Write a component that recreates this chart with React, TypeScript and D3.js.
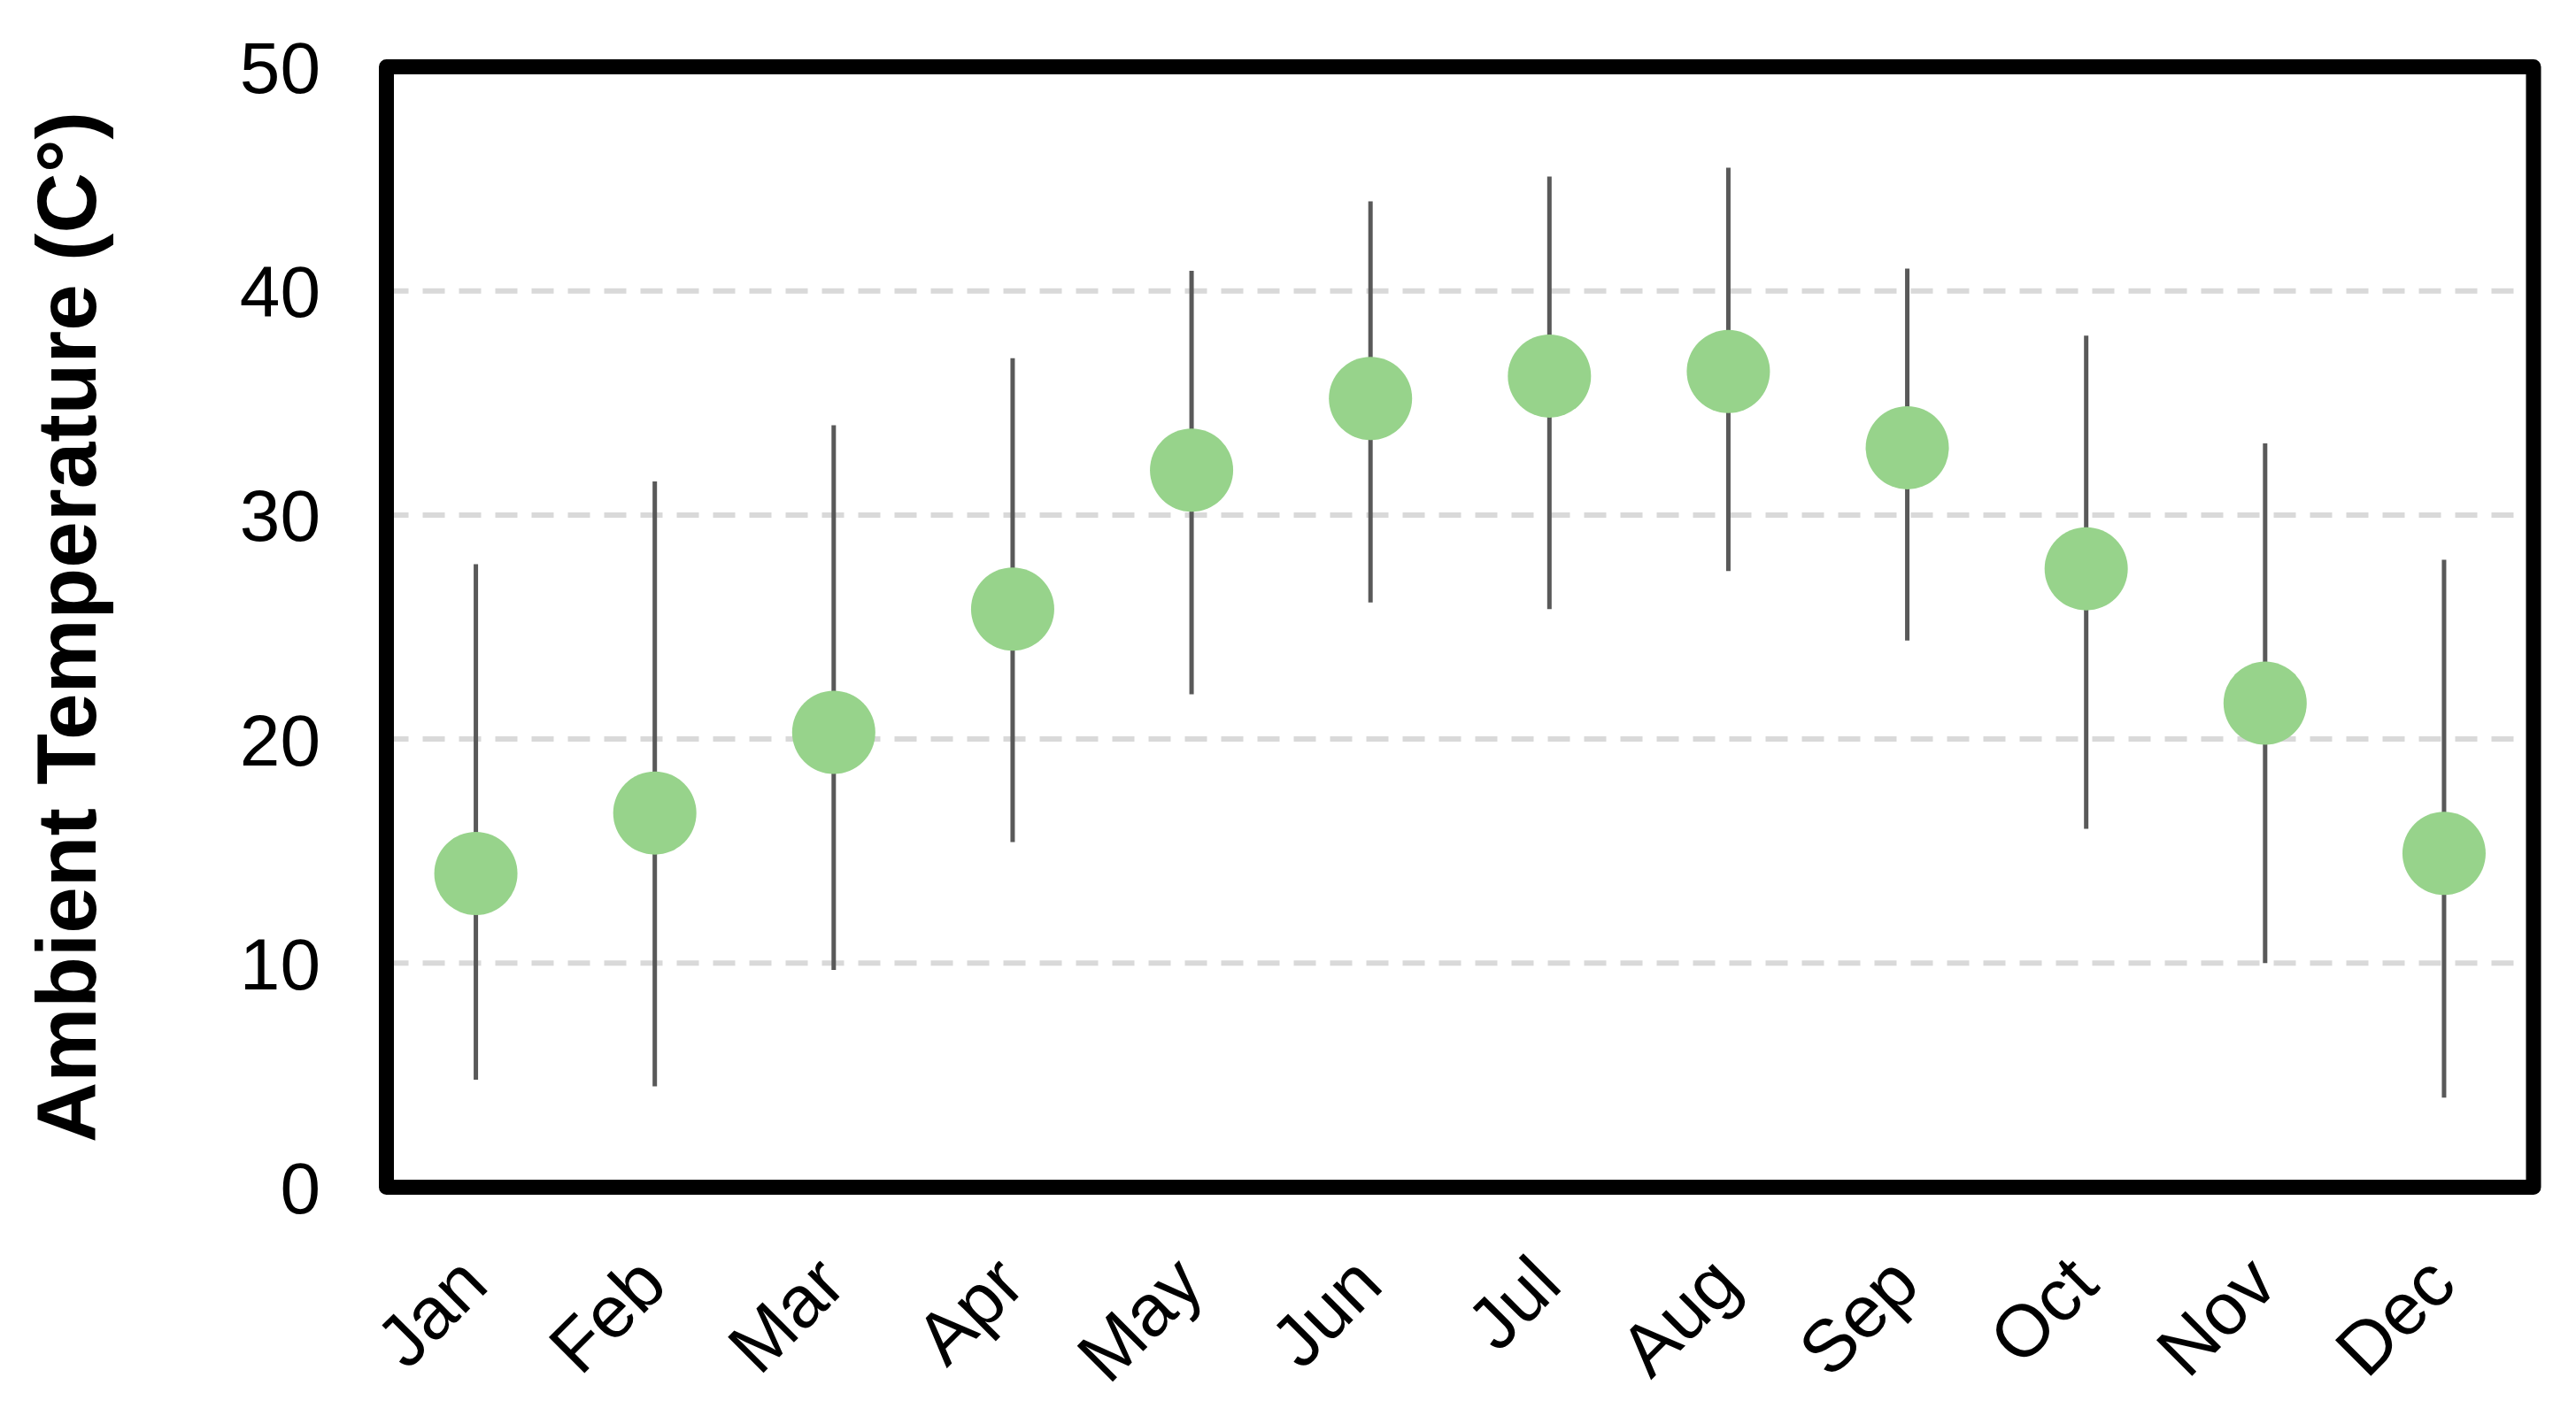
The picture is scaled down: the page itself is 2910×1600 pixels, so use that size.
import React from "react";
import * as d3 from "d3";

const months = ["Jan", "Feb", "Mar", "Apr", "May", "Jun", "Jul", "Aug", "Sep", "Oct", "Nov", "Dec"];
const meanTemp = [14.0, 16.7, 20.3, 25.8, 32.0, 35.2, 36.2, 36.4, 33.0, 27.6, 21.6, 14.9];
const maxTemp = [27.8, 31.5, 34.0, 37.0, 40.9, 44.0, 45.1, 45.5, 41.0, 38.0, 33.2, 28.0];
const minTemp = [4.8, 4.5, 9.7, 15.4, 22.0, 26.1, 25.8, 27.5, 24.4, 16.0, 10.0, 4.0];
const yTicks = [0, 10, 20, 30, 40, 50];
const gridTicks = [10, 20, 30, 40];
const yTitle = "Ambient Temperature (C°)";

const W = 2910;
const H = 1600;
const left = 436.5;
const right = 2862;
const top = 75.5;
const bottom = 1341.5;

export default function App() {
  const x = d3.scaleBand<string>().domain(months).range([left, right]).padding(0);
  const y = d3.scaleLinear().domain([0, 50]).range([bottom, top]);
  const cx = (m: string) => (x(m) as number) + x.bandwidth() / 2;
  const font = "'Liberation Sans', Arial, Helvetica, sans-serif";

  return (
    <svg
      width={W}
      height={H}
      viewBox={`0 0 ${W} ${H}`}
      style={{ position: "absolute", left: 0, top: 0, display: "block", background: "#fff" }}
    >
      <rect x={0} y={0} width={W} height={H} fill="#fff" />
      {gridTicks.map((t) => (
        <line
          key={"g" + t}
          x1={left}
          x2={right}
          y1={y(t)}
          y2={y(t)}
          stroke="#d9d9d9"
          strokeWidth={6}
          strokeDasharray="25 16"
        />
      ))}
      {months.map((m, i) => (
        <line
          key={"e" + m}
          x1={cx(m)}
          x2={cx(m)}
          y1={y(maxTemp[i])}
          y2={y(minTemp[i])}
          stroke="#595959"
          strokeWidth={5}
        />
      ))}
      {months.map((m, i) => (
        <circle key={"c" + m} cx={cx(m)} cy={y(meanTemp[i])} r={47} fill="#97d38b" />
      ))}
      <rect
        x={left}
        y={top}
        width={right - left}
        height={bottom - top}
        fill="none"
        stroke="#000"
        strokeWidth={17}
        strokeLinejoin="round"
      />
      {yTicks.map((t) => (
        <text
          key={"yt" + t}
          x={362}
          y={y(t)}
          dy="0.36em"
          textAnchor="end"
          fontFamily={font}
          fontSize={82}
          fill="#000"
        >
          {t}
        </text>
      ))}
      {months.map((m) => (
        <text
          key={"xt" + m}
          transform={`translate(${cx(m) + 17},${1455}) rotate(-45)`}
          textAnchor="end"
          fontFamily={font}
          fontSize={83}
          fill="#000"
        >
          {m}
        </text>
      ))}
      <text
        transform={`translate(${108},${(top + bottom) / 2}) rotate(-90)`}
        textAnchor="middle"
        fontFamily={font}
        fontWeight="bold"
        fontSize={94.5}
        fill="#000"
      >
        {yTitle}
      </text>
    </svg>
  );
}
